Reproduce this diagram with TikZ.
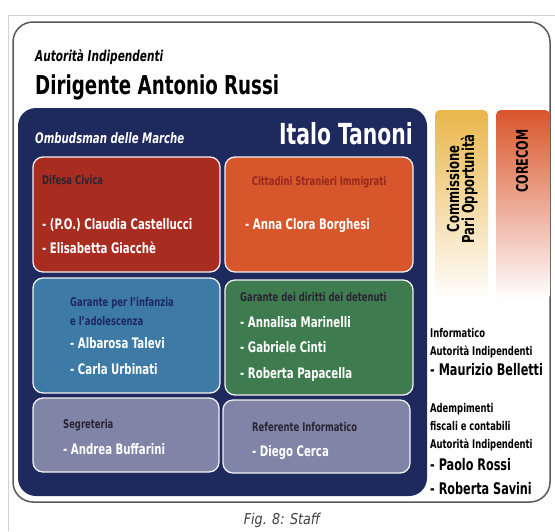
\documentclass[tikz,border=0pt]{standalone}
\usepackage{fontspec}
\setmainfont[FakeStretch=0.78]{DejaVu Sans Condensed}
\newfontfamily\capfont[FakeStretch=0.85]{DejaVu Sans}
\usepackage{xcolor}
\usetikzlibrary{positioning}

\definecolor{navy}{HTML}{1E2A5E}
\definecolor{difesa}{HTML}{A82C20}
\definecolor{stranieri}{HTML}{D8562B}
\definecolor{infanzia}{HTML}{3D7AA5}
\definecolor{detenuti}{HTML}{3E7B4E}
\definecolor{staffgray}{HTML}{8084A6}
\definecolor{headtxt}{HTML}{2A2535}
\definecolor{pariyel}{HTML}{E9B64A}
\definecolor{corered}{HTML}{D9552B}

\begin{document}
\begin{tikzpicture}[x=1pt,y=-1pt,
  officebox/.style={draw=white!90!gray,line width=1.3pt,rounded corners=10},
  officehead/.style={anchor=base west,inner sep=0,font=\bfseries\fontsize{12}{14}\selectfont,text=headtxt},
  person/.style={anchor=base west,inner sep=0,font=\bfseries\fontsize{14.5}{17}\selectfont,text=white},
  sidehead/.style={anchor=base west,inner sep=0,font=\bfseries\fontsize{12}{14}\selectfont,text=black},
  sideperson/.style={anchor=base west,inner sep=0,font=\bfseries\fontsize{16}{18}\selectfont,text=black}]
\useasboundingbox (0,0) rectangle (555,531);
\fill[white] (0,0) rectangle (555,531);

% frame
\draw[gray!35] (555,15) -- (8,15) -- (8,531);
\draw[black!65,line width=1.5pt,rounded corners=20] (13,22) rectangle (550,502);

\node[anchor=base west,inner sep=0,font=\bfseries\itshape\fontsize{15}{17}\selectfont] (autorita) at (35,61) {Autorità Indipendenti};
\node[anchor=base west,inner sep=0,font=\bfseries\fontsize{26}{30}\selectfont] (dirigente) at (35,94) {Dirigente Antonio Russi};

% ombudsman
\fill[navy,rounded corners=18] (18,108) rectangle (427,496);
\node[anchor=base west,inner sep=0,font=\bfseries\itshape\fontsize{14.5}{16}\selectfont,text=white] (ombudsman) at (35,143) {Ombudsman delle Marche};
\node[anchor=base east,inner sep=0,font=\bfseries\fontsize{29}{32}\selectfont,text=white] (tanoni) at (413,144) {Italo Tanoni};

\filldraw[officebox,fill=difesa] (33,157) rectangle (220,272);
\node[officehead] (difesa) at (42,184) {Difesa Civica};
\node[person] (castellucci) at (42,229) {- (P.O.) Claudia Castellucci};
\node[person] (giacche) at (42,253) {- Elisabetta Giacchè};

\filldraw[officebox,fill=stranieri] (225,157) rectangle (413,272);
\node[officehead,anchor=base,text=difesa!90!black] (stranieri) at (319,185) {Cittadini Stranieri Immigrati};
\node[person] (borghesi) at (245,229) {- Anna Clora Borghesi};

\filldraw[officebox,fill=infanzia] (33,278) rectangle (220,393);
\node[officehead,text=navy] (infanzia) at (70,306) {Garante per l'infanzia};
\node[officehead,text=navy] (adolescenza) at (70,325) {e l'adolescenza};
\node[person] (talevi) at (70,348) {- Albarosa Talevi};
\node[person] (urbinati) at (70,374) {- Carla Urbinati};

\filldraw[officebox,fill=detenuti] (225,280) rectangle (413,395);
\node[officehead] (detenuti) at (240,301) {Garante dei diritti dei detenuti};
\node[person] (marinelli) at (240,327) {- Annalisa Marinelli};
\node[person] (cinti) at (240,352) {- Gabriele Cinti};
\node[person] (papacella) at (240,378) {- Roberta Papacella};

\filldraw[officebox,fill=staffgray] (33,398) rectangle (219,472);
\node[officehead] (segreteria) at (63,428) {Segreteria};
\node[person] (buffarini) at (63,454) {- Andrea Buffarini};

\filldraw[officebox,fill=staffgray] (223,400) rectangle (410,473);
\node[officehead] (referente) at (252,431) {Referente Informatico};
\node[person] (cerca) at (252,456) {- Diego Cerca};

% side bars
\shade[rounded corners=5,top color=pariyel,middle color=pariyel!80!white,bottom color=white] (435,110) rectangle (488,300);
\node[rotate=90,align=center,inner sep=0,font=\bfseries\fontsize{16.5}{15}\selectfont] (pari) at (462,189) {Commissione\\Pari Opportunità};
\shade[rounded corners=5,top color=corered,middle color=corered!55!white,bottom color=white] (496,110) rectangle (550,300);
\node[rotate=90,inner sep=0,font=\bfseries\fontsize{16}{17}\selectfont] (corecom) at (522,161) {CORECOM};

\node[sidehead] (informatico) at (430,337) {Informatico};
\node[sidehead] (autinf) at (430,355) {Autorità Indipendenti};
\node[sideperson] (belletti) at (430,375) {- Maurizio Belletti};
\node[sidehead] (adempimenti) at (430,412) {Adempimenti};
\node[sidehead] (fiscali) at (430,430) {fiscali e contabili};
\node[sidehead] (autadem) at (430,448) {Autorità Indipendenti};
\node[sideperson] (rossi) at (430,470) {- Paolo Rossi};
\node[sideperson] (savini) at (430,494) {- Roberta Savini};

% caption
\node[inner sep=0,font=\capfont\itshape\fontsize{15}{17}\selectfont,text=black!75] (caption) at (282,520) {Fig. 8: Staff};
\end{tikzpicture}
\end{document}
